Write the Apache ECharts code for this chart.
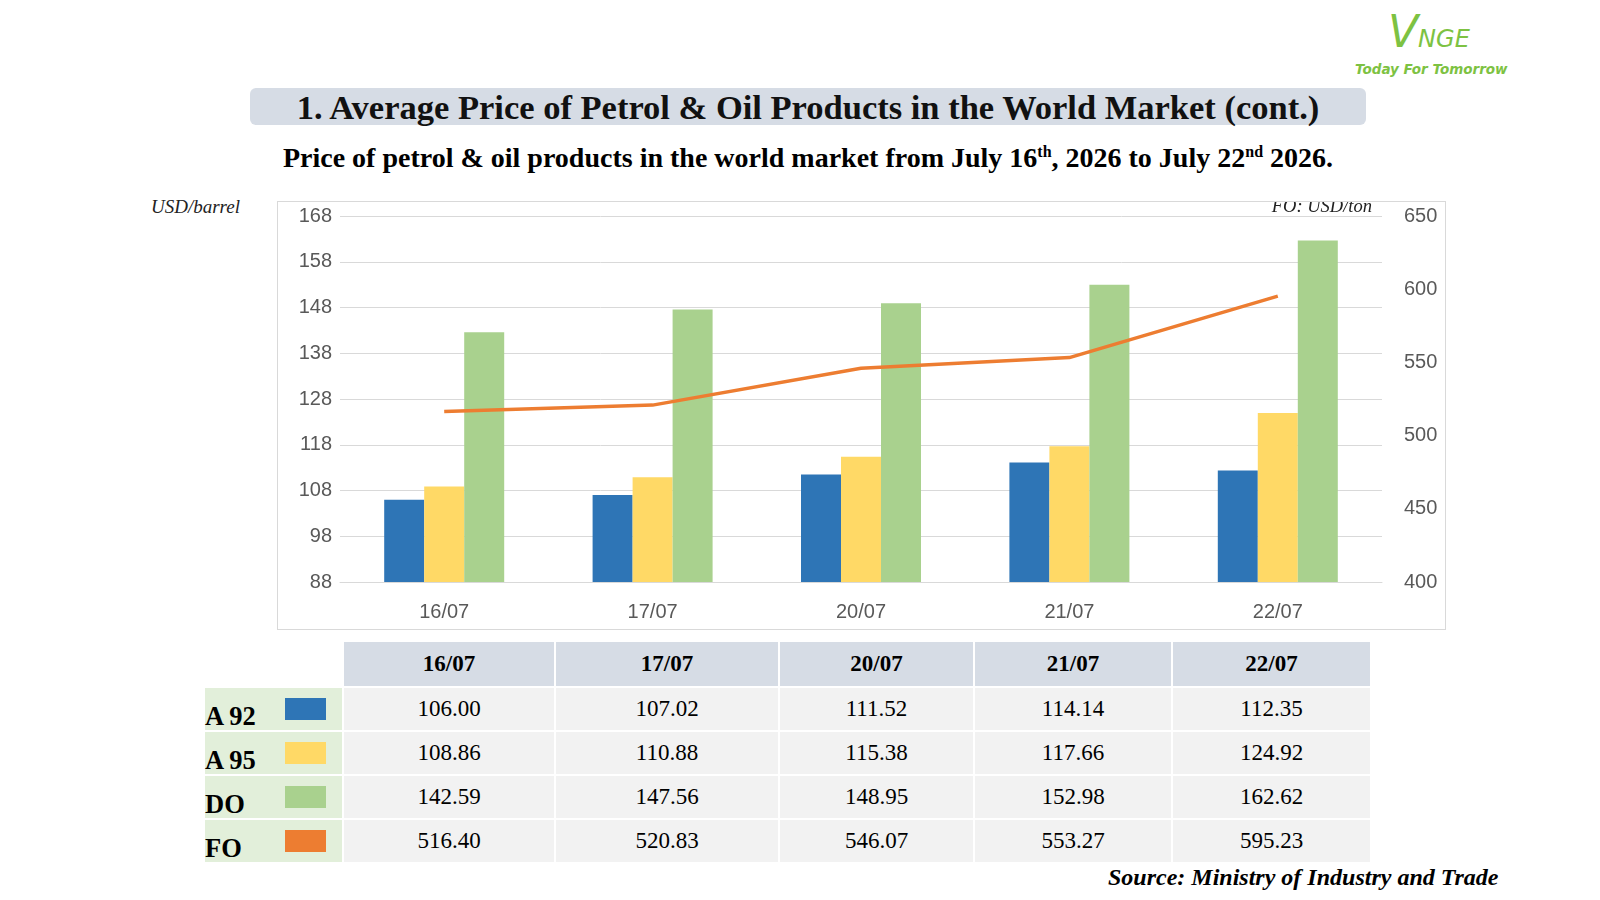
<!DOCTYPE html>
<html><head><meta charset="utf-8">
<script src="https://cdn.jsdelivr.net/npm/echarts@6/dist/echarts.min.js"></script>
<style>
body{margin:0;width:1600px;height:900px;background:#fff;position:relative;font-family:"Liberation Serif",serif;overflow:hidden}
.abs{position:absolute}
#title{left:250px;top:88px;width:1116px;height:37px;background:#d6dce5;border-radius:6px;text-align:center;font-weight:bold;font-size:34.5px;line-height:38px;color:#111}
#sub{left:0;top:142px;width:1616px;text-align:center;font-weight:bold;font-size:28px;color:#000}
#chart{left:277px;top:201px;width:1169px;height:429px;border:1px solid #d9d9d9;box-sizing:border-box}
#tbl{left:203px;top:640px;border-collapse:separate;border-spacing:2px;font-size:23px}
#tbl td{height:42px;text-align:center;padding:0}
#tbl th{height:42px;background:#d6dce5;font-weight:bold;font-size:23px}
#tbl td.lab{background:#e2efda;text-align:left;font-weight:bold;font-size:26.5px;position:relative;vertical-align:bottom;line-height:28px}
#tbl td.val{background:#f2f2f2}
.sw{position:absolute;left:80px;top:10px;width:41px;height:22px}
</style></head><body>
<div class="abs" style="left:1388px;top:6px;color:#7dc242;font-family:'DejaVu Sans';font-style:italic;font-size:24px"><span style="font-size:44px">V</span>NGE</div>
<div class="abs" style="left:1355px;top:61px;color:#7dc242;font-family:'DejaVu Sans';font-style:italic;font-weight:bold;font-size:13.5px">Today For Tomorrow</div>
<div id="title" class="abs">1. Average Price of Petrol &amp; Oil Products in the World Market (cont.)</div>
<div id="sub" class="abs">Price of petrol &amp; oil products in the world market from July 16<sup style="font-size:16px">th</sup>, 2026 to July 22<sup style="font-size:16px">nd</sup> 2026.</div>
<div class="abs" style="left:151px;top:196px;font-style:italic;font-size:19px;color:#222">USD/barrel</div>
<div id="chart" class="abs"></div>
<table id="tbl" class="abs"></table>
<div class="abs" style="left:1108px;top:864px;font-style:italic;font-weight:bold;font-size:24px">Source: Ministry of Industry and Trade</div>
<script>
const dates = ['16/07','17/07','20/07','21/07','22/07'];
const a92 = [106.00,107.02,111.52,114.14,112.35];
const a95 = [108.86,110.88,115.38,117.66,124.92];
const dieselOil = [142.59,147.56,148.95,152.98,162.62];
const fuelOil = [516.40,520.83,546.07,553.27,595.23];
const names = ['A 92','A 95','DO','FO'];
const colors = ['#2e75b6','#ffd966','#a9d18e','#ed7d31'];

const chart = echarts.init(document.getElementById('chart'));
const axisLbl = {color:'#595959',fontSize:20,fontFamily:'Liberation Sans'};
chart.setOption({
  animation:false,
  grid:{left:62,right:63,top:14,bottom:47},
  graphic:[{type:'text',right:73,top:-4,style:{text:'FO: USD/ton',font:'italic 18.5px "Liberation Serif"',fill:'#222'}}],
  xAxis:{type:'category',data:dates,axisTick:{show:false},axisLine:{lineStyle:{color:'#d9d9d9'}},axisLabel:Object.assign({margin:20},axisLbl)},
  yAxis:[
    {type:'value',min:88,max:168,interval:10,axisLabel:axisLbl,splitLine:{lineStyle:{color:'#d9d9d9'}}},
    {type:'value',min:400,max:650,interval:50,axisLabel:Object.assign({margin:22},axisLbl),splitLine:{show:false}}
  ],
  series:[
    {name:names[0],type:'bar',data:a92,barWidth:40,barGap:'0%',itemStyle:{color:colors[0]}},
    {name:names[1],type:'bar',data:a95,barWidth:40,barGap:'0%',itemStyle:{color:colors[1]}},
    {name:names[2],type:'bar',data:dieselOil,barWidth:40,barGap:'0%',itemStyle:{color:colors[2]}},
    {name:names[3],type:'line',yAxisIndex:1,data:fuelOil,symbol:'none',lineStyle:{color:colors[3],width:3.5}}
  ]
});

const rows = [a92,a95,dieselOil,fuelOil];
const widths = [137,208,220,191,194,195];
let html = '<tr><td style="width:'+widths[0]+'px"></td>' + dates.map((d,i)=>'<th style="width:'+widths[i+1]+'px">'+d+'</th>').join('') + '</tr>';
rows.forEach((r,k)=>{
  html += '<tr><td class="lab">'+names[k]+'<span class="sw" style="background:'+colors[k]+'"></span></td>' + r.map(v=>'<td class="val">'+v.toFixed(2)+'</td>').join('') + '</tr>';
});
document.getElementById('tbl').innerHTML = html;
</script>
</body></html>
